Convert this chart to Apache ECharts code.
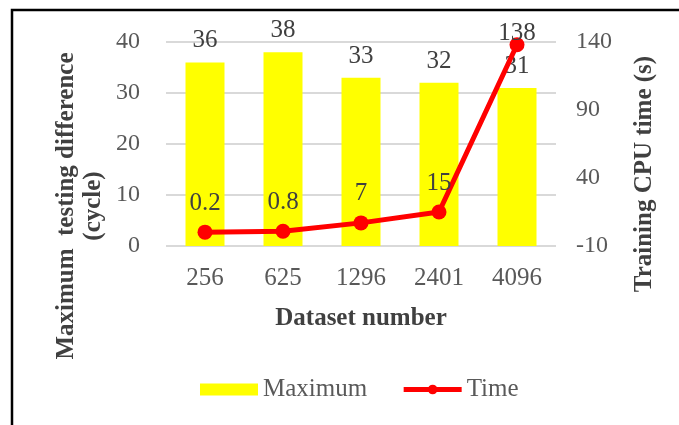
<!DOCTYPE html>
<html><head><meta charset="utf-8">
<script src="https://cdn.jsdelivr.net/npm/echarts@6/dist/echarts.min.js"></script>
<style>html,body{margin:0;padding:0;background:#fff}#c{width:679px;height:425px}</style>
</head><body><div id="c"></div>
<script>
const categories = ['256', '625', '1296', '2401', '4096'];
const maximumValues = [36, 38, 33, 32, 31];
const timeValues = [0.2, 0.8, 7, 15, 138];
const maxLabels = ['36', '38', '33', '32', '31'];
const timeLabels = ['0.2', '0.8', '7', '15', '138'];

const FONT = '"Liberation Serif", "Times New Roman", serif';
const chart = echarts.init(document.getElementById('c'));
const lastIdx = timeValues.length - 1;
chart.setOption({
  animation: false,
  textStyle: { fontFamily: FONT },
  graphic: [
    { type: 'rect', shape: { x: 12, y: 10, width: 800, height: 600 }, style: { fill: 'none', stroke: '#000', lineWidth: 2.5 }, z: -10 },
    { type: 'text', x: 80, y: 206, rotation: Math.PI / 2,
      style: { text: 'Maximum  testing difference\n(cycle)', font: 'bold 25px ' + FONT, fill: '#404040', align: 'center', verticalAlign: 'middle', lineHeight: 27 } },
    { type: 'text', x: 645, y: 174, rotation: Math.PI / 2,
      style: { text: 'Training CPU time (s)', font: 'bold 25px ' + FONT, fill: '#404040', align: 'center', verticalAlign: 'middle' } }
  ],
  legend: {
    bottom: 18, left: 195, itemGap: 34, itemWidth: 58, itemHeight: 12,
    textStyle: { fontFamily: FONT, fontSize: 25, color: '#595959' },
    data: [
      { name: 'Maximum', icon: 'rect' },
      { name: 'Time', lineStyle: { width: 5, color: '#ff0000' }, itemStyle: { color: '#ff0000' } }
    ]
  },
  grid: { left: 166, right: 123, top: 42, bottom: 179 },
  xAxis: {
    type: 'category', data: categories,
    axisLine: { show: false }, axisTick: { show: false },
    axisLabel: { fontSize: 25, color: '#595959', margin: 20, fontFamily: FONT },
    name: 'Dataset number', nameLocation: 'middle', nameGap: 60,
    nameTextStyle: { fontSize: 25, fontWeight: 'bold', color: '#404040', fontFamily: FONT }
  },
  yAxis: [
    { type: 'value', min: 0, max: 40, interval: 10,
      axisLine: { show: false }, axisTick: { show: false },
      axisLabel: { fontSize: 24, color: '#595959', margin: 26, fontFamily: FONT },
      splitLine: { lineStyle: { color: '#d9d9d9', width: 2 } } },
    { type: 'value', min: -10, max: 140, interval: 50,
      axisLine: { show: false }, axisTick: { show: false },
      axisLabel: { fontSize: 24, color: '#595959', margin: 20, fontFamily: FONT },
      splitLine: { show: false } }
  ],
  series: [
    { name: 'Maximum', type: 'bar', data: maximumValues, yAxisIndex: 0, barWidth: '50%',
      itemStyle: { color: '#ffff00' },
      label: { show: true, position: 'top', distance: 9, fontSize: 25, color: '#404040', fontFamily: FONT,
        formatter: p => maxLabels[p.dataIndex] } },
    { name: 'Time', type: 'line', yAxisIndex: 1,
      data: timeValues.map((v, i) => i === lastIdx ? { value: v, label: { distance: -9 } } : v),
      symbol: 'circle', symbolSize: 15,
      lineStyle: { color: '#ff0000', width: 5 }, itemStyle: { color: '#ff0000' },
      label: { show: true, position: 'top', distance: 9, fontSize: 25, color: '#404040', fontFamily: FONT,
        formatter: p => timeLabels[p.dataIndex] } }
  ]
});
</script></body></html>
